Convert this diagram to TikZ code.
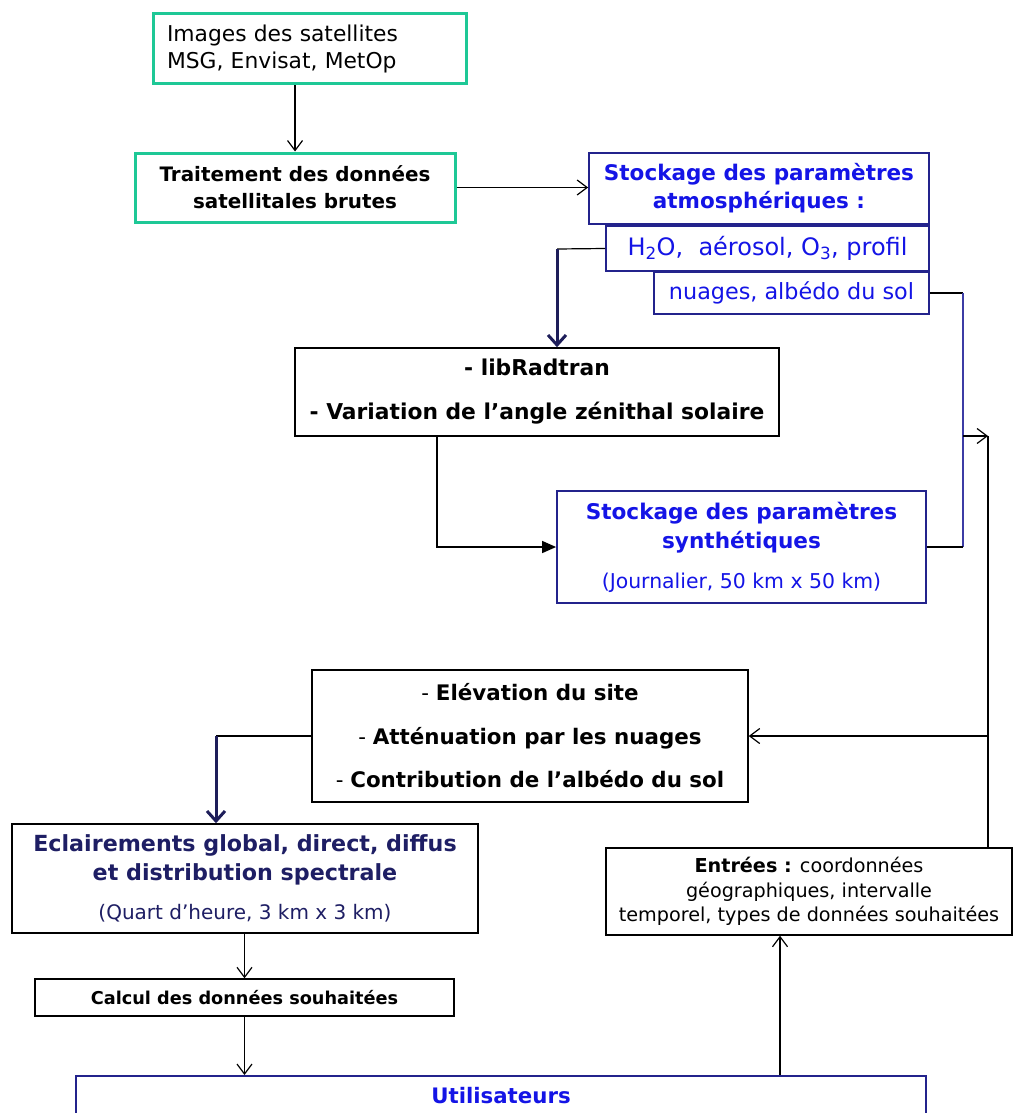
\documentclass[tikz,border=0pt]{standalone}
\usepackage{fontspec}
\setmainfont{DejaVu Sans}
\usetikzlibrary{arrows.meta}
\definecolor{grn}{RGB}{30,200,150}
\definecolor{bluetxt}{RGB}{20,20,230}
\definecolor{navyb}{RGB}{35,35,140}
\definecolor{navytxt}{RGB}{30,30,100}
\definecolor{navyln}{RGB}{30,30,90}
\definecolor{bluel}{RGB}{60,60,165}
\newcommand{\fsz}[2]{\fontsize{#1}{#2}\selectfont}
\tikzset{
  box/.style={draw=black, line width=1.5pt, rectangle, inner sep=0pt, align=center},
  gbox/.style={draw=grn, line width=3pt, rectangle, inner sep=0pt, align=center},
  bbox/.style={draw=navyb, line width=1.8pt, rectangle, inner sep=0pt, align=center, text=bluetxt},
  conn/.style={line width=1.2pt, black},
  openarr/.style={-{Straight Barb[length=10pt,width=15pt,line width=1.2pt]}},
  navyarr/.style={line width=3pt, navyln, -{Straight Barb[length=10pt,width=18pt,line width=3pt]}},
  filarr/.style={line width=1.5pt, -{Triangle[length=14pt,width=12pt]}}
}
\begin{document}
\begin{tikzpicture}[x=1pt,y=-1pt]
\useasboundingbox[fill=white] (0,0) rectangle (1013,1113);

\node[gbox, minimum width=313pt, minimum height=70pt, text width=285pt, align=left, font=\fsz{21.8}{27}] (img) at (309.5,49)
  {Images des satellites\\MSG, Envisat, MetOp};
\node[gbox, minimum width=320pt, minimum height=69pt, font=\fsz{19.9}{27}\bfseries] (trt) at (295,187.5)
  {Traitement des données\\satellitales brutes};
\node[bbox, minimum width=340pt, minimum height=71pt, font=\fsz{21.5}{28}\bfseries] (atm) at (759,188.5)
  {Stockage des paramètres\\atmosphériques :};
\node[bbox, minimum width=323pt, minimum height=45pt, font=\fsz{24}{26}] (h2o) at (767.5,248.5)
  {H\textsubscript{2}O,\ \ aérosol, O\textsubscript{3}, profil};
\node[bbox, minimum width=275pt, minimum height=42pt, font=\fsz{22.3}{26}] (nua) at (791.5,293)
  {nuages, albédo du sol};
\node[box, minimum width=484pt, minimum height=88pt, font=\fsz{21.8}{25}\bfseries] (lib) at (537,392)
  {- libRadtran\\[19pt]- Variation de l’angle zénithal solaire};
\node[bbox, minimum width=369pt, minimum height=112pt, font=\fsz{21.6}{29}\bfseries] (syn) at (741.5,547)
  {Stockage des paramètres\\synthétiques\\[11pt]
   \fsz{20.4}{24}\mdseries (Journalier, 50 km x 50 km)};
\node[box, minimum width=436pt, minimum height=132pt, font=\fsz{21.4}{24}] (elv) at (530,736)
  {- \textbf{Elévation du site}\\[20pt]- \textbf{Atténuation par les nuages}\\[19pt]- \textbf{Contribution de l’albédo du sol}};
\node[box, minimum width=466pt, minimum height=109pt, text=navytxt, font=\fsz{22.2}{29}\bfseries] (ecl) at (245,878.5)
  {Eclairements global, direct, diffus\\et distribution spectrale\\[10pt]
   \fsz{20}{24}\mdseries (Quart d’heure, 3 km x 3 km)};
\node[box, minimum width=419pt, minimum height=37pt, font=\fsz{17.7}{22}\bfseries] (cal) at (244.5,997.5)
  {Calcul des données souhaitées};
\node[box, minimum width=406pt, minimum height=87pt, font=\fsz{19.2}{24.5}] (ent) at (809,891.5)
  {\textbf{Entrées :} coordonnées\\géographiques, intervalle\\temporel, types de données souhaitées};
\node[bbox, minimum width=850pt, minimum height=80pt, anchor=north] (usr) at (501,1075) {};
\node[text=bluetxt, font=\fsz{21.3}{25}\bfseries] (usrt) at (501,1096) {Utilisateurs};

% junction coordinates
\coordinate (j1) at (557,249);
\coordinate (j2) at (437,547);
\coordinate (j3) at (963,436);
\coordinate (j4) at (988,736);
\coordinate (j5) at (216,736);
\coordinate (j6) at (780,1000);

\draw[conn, openarr] (trt.north |- img.south) -- (trt.north);
\draw[conn, openarr] (trt.east) -- (trt.east -| atm.west);
\draw[conn] (h2o.west) -- (j1);
\draw[navyarr] (j1) -- (j1 |- lib.north);
\draw[conn, filarr] (lib.south -| j2) -- (j2) -- (syn.west);
\draw[conn] (nua.east) -- (nua.east -| j3);
\draw[line width=1.5pt, bluel] (nua.east -| j3) -- (syn.east -| j3);
\draw[conn] (syn.east) -- (syn.east -| j3);
\draw[conn, openarr] (j3) -- (j3 -| j4);
\draw[conn] (j3 -| j4) -- (j4 |- ent.north);
\draw[conn, openarr] (j4) -- (elv.east);
\draw[conn] (elv.west) -- (j5);
\draw[navyarr] (j5) -- (j5 |- ecl.north);
\draw[conn, openarr] (cal.north |- ecl.south) -- (cal.north);
\draw[conn, openarr] (cal.south) -- (cal.south |- usr.north);
\draw[conn, openarr] (j6 |- usr.north) -- (j6 |- ent.south);
\end{tikzpicture}
\end{document}
